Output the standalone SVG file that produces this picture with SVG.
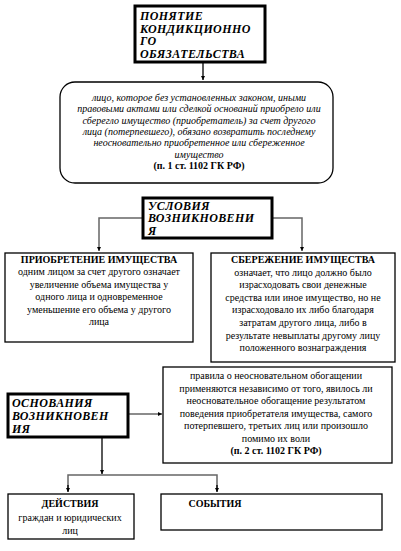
<svg xmlns="http://www.w3.org/2000/svg" width="401" height="551" viewBox="0 0 401 551">
<style>
.title{font-family:"Liberation Serif","Times New Roman",serif;font-weight:bold;font-style:italic;font-size:12px;letter-spacing:0.4px;fill:#000}
.tbox{fill:#fff;stroke:#000;stroke-width:3}
.box{fill:#fff;stroke:#000;stroke-width:1.3}
.t{font-family:"Liberation Serif","Times New Roman",serif;font-size:10px;fill:#000;text-anchor:middle}
.ti{font-family:"Liberation Serif","Times New Roman",serif;font-style:italic;font-size:10px;fill:#000;text-anchor:middle}
.b{font-weight:bold}
.con{fill:none;stroke:#666;stroke-width:1.5}
.conk{fill:none;stroke:#000;stroke-width:1.3}
</style>
<defs>
<marker id="ah" viewBox="0 0 8 8" refX="8" refY="4" markerWidth="4" markerHeight="4" orient="auto" markerUnits="userSpaceOnUse">
<path d="M0,0 L8,4 L0,8 Z" fill="#000"/>
</marker>
</defs>
<g id="connectors">
<path class="conk" d="M203,63 V80" marker-end="url(#ah)"/>
<path class="con" d="M142,218 H99 V251" marker-end="url(#ah)"/>
<path class="con" d="M273,218 H302 V251" marker-end="url(#ah)"/>
<path class="con" d="M129,414 H162" marker-end="url(#ah)"/>
<path class="conk" d="M102,438 V474" marker-end="url(#ah)"/>
<path class="con" d="M68,491 V475 H217 V491"/>
<path class="conk" d="M68,485 V492" marker-end="url(#ah)"/>
<path class="conk" d="M217,485 V492" marker-end="url(#ah)"/>
</g>
<g id="n1">
<rect class="tbox" x="135" y="6" width="130" height="56"/>
<text class="title" x="140" y="20">ПОНЯТИЕ</text>
<text class="title" x="140" y="32.5">КОНДИКЦИОННО</text>
<text class="title" x="140" y="45">ГО</text>
<text class="title" x="140" y="57.5">ОБЯЗАТЕЛЬСТВА</text>
</g>
<g id="n2">
<rect class="box" x="60" y="82" width="273" height="101" rx="15" ry="15" stroke-width="1"/>
<text class="ti" x="199" y="101">лицо, которое без установленных законом, иными</text>
<text class="ti" x="199" y="112.3">правовыми актами или сделкой оснований приобрело или</text>
<text class="ti" x="199" y="123.6">сберегло имущество (приобретатель) за счет другого</text>
<text class="ti" x="199" y="134.9">лица (потерпевшего), обязано возвратить последнему</text>
<text class="ti" x="199" y="146.2">неосновательно приобретенное или сбереженное</text>
<text class="ti" x="199" y="157.5">имущество</text>
<text class="t b" x="199" y="169" font-size="8.5">(п. 1 ст. 1102 ГК РФ)</text>
</g>
<g id="n3">
<rect class="tbox" x="143" y="198" width="129" height="40" stroke-width="2.5"/>
<text class="title" x="148" y="209.5">УСЛОВИЯ</text>
<text class="title" x="148" y="222">ВОЗНИКНОВЕНИ</text>
<text class="title" x="148" y="234.5">Я</text>
</g>
<g id="n4">
<rect class="box" x="5" y="253" width="188" height="89"/>
<text class="t b" x="99" y="263">ПРИОБРЕТЕНИЕ ИМУЩЕСТВА</text>
<text class="t" x="99" y="275.4">одним лицом за счет другого означает</text>
<text class="t" x="99" y="287.8">увеличение объема имущества у</text>
<text class="t" x="99" y="300.2">одного лица и одновременное</text>
<text class="t" x="99" y="312.6">уменьшение его объема у другого</text>
<text class="t" x="99" y="325">лица</text>
</g>
<g id="n5">
<rect class="box" x="211" y="253" width="184" height="109"/>
<text class="t b" x="303" y="263">СБЕРЕЖЕНИЕ ИМУЩЕСТВА</text>
<text class="t" x="303" y="275.6">означает, что лицо должно было</text>
<text class="t" x="303" y="288.2">израсходовать свои денежные</text>
<text class="t" x="303" y="300.8">средства или иное имущество, но не</text>
<text class="t" x="303" y="313.4">израсходовало их либо благодаря</text>
<text class="t" x="303" y="326">затратам другого лица, либо в</text>
<text class="t" x="303" y="338.6">результате невыплаты другому лицу</text>
<text class="t" x="303" y="351.2">положенного вознаграждения</text>
</g>
<g id="n6">
<rect class="tbox" x="8" y="394" width="120" height="43"/>
<text class="title" x="12" y="407" font-size="12.5">ОСНОВАНИЯ</text>
<text class="title" x="12" y="420" font-size="12.5">ВОЗНИКНОВЕН</text>
<text class="title" x="12" y="433" font-size="12.5">ИЯ</text>
</g>
<g id="n7">
<rect class="box" x="163" y="367" width="229" height="96"/>
<text class="t" x="276" y="379">правила о неосновательном обогащении</text>
<text class="t" x="276" y="391.5">применяются независимо от того, явилось ли</text>
<text class="t" x="276" y="404">неосновательное обогащение результатом</text>
<text class="t" x="276" y="416.5">поведения приобретателя имущества, самого</text>
<text class="t" x="276" y="429">потерпевшего, третьих лиц или произошло</text>
<text class="t" x="276" y="441.5">помимо их воли</text>
<text class="t b" x="276" y="454">(п. 2 ст. 1102 ГК РФ)</text>
</g>
<g id="n8">
<rect class="box" x="8" y="494" width="126" height="45"/>
<text class="t b" x="70" y="507">ДЕЙСТВИЯ</text>
<text class="t" x="70" y="521">граждан и юридических</text>
<text class="t" x="70" y="534">лиц</text>
</g>
<g id="n9">
<rect class="box" x="161" y="494" width="221" height="36"/>
<text class="t b" x="215" y="507">СОБЫТИЯ</text>
</g>
</svg>
